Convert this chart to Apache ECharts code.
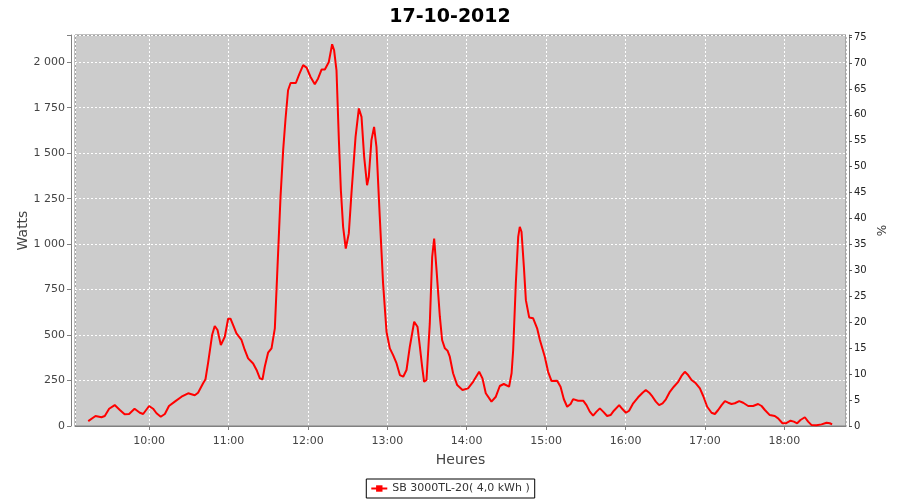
<!DOCTYPE html>
<html><head><meta charset="utf-8">
<script src="https://cdn.jsdelivr.net/npm/echarts@6/dist/echarts.min.js"></script>
<style>html,body{margin:0;padding:0;background:#fff}#c{width:900px;height:500px}</style>
</head><body><div id="c"></div>
<script>
const chartTitle = '17-10-2012';
const seriesName = 'SB 3000TL-20( 4,0 kWh )';
const leftAxisName = 'Watts';
const rightAxisName = '%';
const xAxisName = 'Heures';
const day = [2012, 9, 17];
const xRange = ['09:04:00', '18:46:36'];
const leftRange = [0, 2150, 250];
const rightRange = [0, 75.4, 5];

const times = [
'09:14:00','09:19:30','09:24:00','09:26:30','09:29:48','09:34:00','09:37:54','09:41:30','09:44:54','09:49:00',
'09:53:00','09:55:30','10:00:00','10:03:00','10:05:36','10:08:48','10:11:54','10:15:00','10:19:24','10:24:30',
'10:29:30','10:34:30','10:37:00','10:40:48','10:42:36','10:44:36','10:47:36','10:49:36','10:51:42','10:54:12',
'10:55:30','10:57:12','10:59:42','11:01:30','11:03:30','11:06:00','11:09:48','11:12:18','11:14:48','11:18:36',
'11:21:12','11:23:42','11:25:42','11:27:24','11:29:54','11:32:30','11:35:00','11:36:42','11:39:18','11:41:18',
'11:43:06','11:45:00','11:46:54','11:50:54','11:53:24','11:56:24','11:59:00','12:02:00','12:05:12','12:07:42',
'12:10:18','12:12:48','12:15:48','12:18:18','12:19:48','12:21:36','12:23:24','12:24:54','12:26:36','12:28:36',
'12:30:54','12:32:54','12:36:00','12:38:30','12:40:30','12:42:30','12:44:42','12:46:00','12:48:00','12:50:00',
'12:51:48','12:54:18','12:56:48','12:59:24','13:01:54','13:04:24','13:07:00','13:09:30','13:12:00','13:14:30',
'13:17:00','13:20:18','13:22:48','13:24:36','13:26:18','13:27:48','13:29:36','13:32:06','13:33:54','13:35:24',
'13:37:12','13:39:42','13:41:24','13:43:30','13:45:30','13:47:12','13:49:42','13:52:48','13:56:48','14:01:00',
'14:04:48','14:09:24','14:11:54','14:14:24','14:18:42','14:22:00','14:25:00','14:28:00','14:32:00','14:33:54',
'14:35:06','14:37:06','14:38:54','14:40:06','14:41:24','14:43:12','14:44:42','14:47:12','14:50:12','14:53:12',
'14:55:18','14:59:00','15:01:30','15:04:06','15:08:18','15:10:54','15:13:24','15:15:54','15:18:30','15:20:24',
'15:24:12','15:28:00','15:30:30','15:33:00','15:35:30','15:38:06','15:40:36','15:43:06','15:46:06','15:48:42',
'15:51:12','15:55:12','15:57:48','16:00:18','16:02:42','16:05:48','16:09:30','16:12:54','16:15:18','16:17:54',
'16:20:24','16:22:54','16:25:24','16:28:00','16:30:30','16:33:30','16:36:30','16:39:48','16:42:18','16:44:48',
'16:47:18','16:49:54','16:53:06','16:56:12','16:58:42','17:01:42','17:05:00','17:07:30','17:10:00','17:12:36',
'17:15:06','17:17:36','17:20:06','17:22:36','17:25:54','17:28:54','17:32:42','17:36:24','17:40:12','17:42:48',
'17:45:18','17:49:00','17:52:48','17:55:18','17:58:36','18:01:06','18:04:42','18:07:12','18:09:42','18:12:12',
'18:15:30','18:18:00','18:20:36','18:24:18','18:28:06','18:31:54','18:34:24','18:36:06'
];
const watts = [
27,55,48,55,95,115,88,64,66,95,
73,66,110,95,70,51,66,110,134,161,
180,169,183,235,257,348,500,550,528,445,
445,491,590,590,555,509,473,418,372,344,
308,262,257,326,403,427,537,820,1260,1517,
1691,1846,1886,1886,1934,1984,1971,1919,1879,1911,
1960,1960,2002,2099,2066,1956,1572,1297,1095,976,
1059,1279,1590,1746,1700,1480,1324,1370,1572,1645,
1535,1150,784,518,427,390,344,280,271,308,
436,573,546,436,326,243,253,564,930,1031,
857,601,473,427,414,381,290,225,198,207,
243,298,262,180,134,161,220,231,216,290,
418,784,1040,1095,1068,875,692,597,592,537,
473,381,298,247,249,216,147,106,121,148,
139,139,115,79,57,79,97,79,55,60,
84,115,92,73,84,125,158,183,198,183,
161,134,115,125,147,188,216,243,275,298,
280,253,235,207,165,106,73,66,88,115,
137,128,121,125,137,128,110,110,121,110,
88,60,55,42,15,15,29,24,15,33,
48,24,5,4,9,18,15,9
];

function ts(s) {
  const p = s.split(':').map(Number);
  return new Date(day[0], day[1], day[2], p[0], p[1], p[2] || 0).getTime();
}
function pad(n) { return (n < 10 ? '0' : '') + n; }
function thousands(v) { return String(v).replace(/\B(?=(\d{3})+(?!\d))/g, ' '); }

const font = 'DejaVu Sans';
const chart = echarts.init(document.getElementById('c'), null, {renderer: 'canvas'});
chart.setOption({
  animation: false,
  backgroundColor: '#ffffff',
  title: {
    text: chartTitle, left: 'center', top: 3,
    textStyle: {fontFamily: font, fontSize: 19, fontWeight: 'bold', color: '#000'}
  },
  legend: {
    bottom: 2, left: 'center',
    borderColor: '#000', borderWidth: 1, padding: [4, 5, 4, 4],
    itemWidth: 16, itemHeight: 8, itemGap: 4,
    textStyle: {fontFamily: font, fontSize: 11, color: '#333'},
    data: [{name: seriesName}]
  },
  grid: {left: 75, right: 54, top: 35, bottom: 74, show: true,
    backgroundColor: '#cccccc', borderColor: '#808080', borderWidth: 1},
  xAxis: {
    type: 'time', min: ts(xRange[0]), max: ts(xRange[1]),
    minInterval: 3600000, maxInterval: 3600000, splitNumber: 10,
    offset: 4,
    name: xAxisName, nameLocation: 'middle', nameGap: 23, nameMoveOverlap: false,
    nameTextStyle: {fontFamily: font, fontSize: 14, color: '#444'},
    axisLine: {lineStyle: {color: '#808080'}},
    axisTick: {show: true, length: 4, lineStyle: {color: '#808080'}},
    minorTick: {show: false},
    axisLabel: {fontFamily: font, fontSize: 11, color: '#444', margin: 6,
      hideOverlap: false, showMinLabel: false, showMaxLabel: false,
      formatter: function (v) { const d = new Date(v); return pad(d.getHours()) + ':' + pad(d.getMinutes()); }},
    splitLine: {show: true, lineStyle: {color: '#ffffff', type: [2, 2], width: 1}}
  },
  yAxis: [{
    type: 'value', position: 'left', min: leftRange[0], max: leftRange[1], interval: leftRange[2],
    offset: 4,
    name: leftAxisName, nameLocation: 'middle', nameGap: 41, nameMoveOverlap: false,
    nameTextStyle: {fontFamily: font, fontSize: 14, color: '#444'},
    axisLine: {show: true, lineStyle: {color: '#808080'}},
    axisTick: {show: true, length: 4, lineStyle: {color: '#808080'}},
    axisLabel: {fontFamily: font, fontSize: 11, color: '#444', margin: 6,
      formatter: function (v) { return v % leftRange[2] === 0 ? thousands(v) : ''; }},
    splitLine: {show: true, lineStyle: {color: '#ffffff', type: [2, 2], width: 1}}
  }, {
    type: 'value', position: 'right', min: rightRange[0], max: rightRange[1], interval: rightRange[2],
    offset: 3,
    name: rightAxisName, nameLocation: 'middle', nameGap: 28, nameMoveOverlap: false,
    nameTextStyle: {fontFamily: font, fontSize: 12, color: '#333'},
    axisLine: {show: true, lineStyle: {color: '#808080'}},
    axisTick: {show: true, length: 3, lineStyle: {color: '#555'}},
    axisLabel: {fontFamily: font, fontSize: 10, color: '#222', margin: 5,
      formatter: function (v) { return Math.abs(v % rightRange[2]) < 1e-9 ? String(v) : ''; }},
    splitLine: {show: false}
  }],
  series: [{
    name: seriesName, type: 'line', yAxisIndex: 0,
    data: times.map(function (t, i) { return [ts(t), watts[i]]; }),
    showSymbol: false, symbol: 'rect', symbolSize: 3,
    itemStyle: {color: '#ff0000'},
    lineStyle: {color: '#ff0000', width: 2},
    smooth: false
  }]
});
</script>
</body></html>
